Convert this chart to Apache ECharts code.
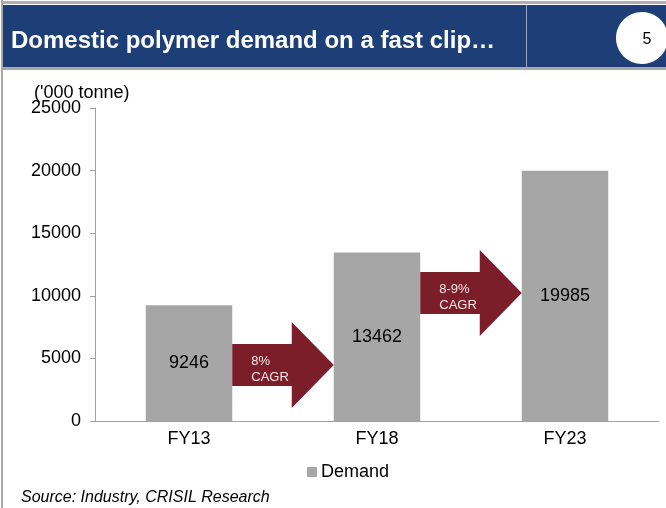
<!DOCTYPE html>
<html>
<head>
<meta charset="utf-8">
<script src="https://cdn.jsdelivr.net/npm/echarts@6/dist/echarts.min.js"></script>
<style>
  html, body { margin: 0; padding: 0; background: #fff; }
  #chart { width: 666px; height: 508px; }
</style>
</head>
<body>
<div id="chart"></div>
<script>
const categories = ['FY13', 'FY18', 'FY23']
const demand = [9246, 13462, 19985]
const yTicks = [0, 5000, 10000, 15000, 20000, 25000]
// arrows between bars: start category index, vertical level (in tonnes), text
const arrowStart = [0, 1]
const arrowLevel = [4470, 10220]
const arrowText = ['8%\nCAGR', '8-9%\nCAGR']

const font = 'Liberation Sans, Arial, sans-serif'
const chart = echarts.init(document.getElementById('chart'))

function renderArrow(params, api) {
  const a = api.coord([api.value(0), api.value(1)])
  const b = api.coord([api.value(0) + 1, api.value(1)])
  const band = api.size([1, 0])[0]
  const x0 = a[0] + band * 0.23
  const x1 = b[0] - band * 0.23
  const y = a[1]
  const bh = 21, hh = 43, hl = 42
  return {
    type: 'group',
    children: [
      {
        type: 'polygon',
        shape: {
          points: [
            [x0, y - bh], [x1 - hl, y - bh], [x1 - hl, y - hh], [x1, y],
            [x1 - hl, y + hh], [x1 - hl, y + bh], [x0, y + bh],
          ],
        },
        style: { fill: '#7b1e2a' },
      },
      {
        type: 'text',
        style: {
          text: arrowText[params.dataIndex],
          x: x0 + 19,
          y: y + 4,
          verticalAlign: 'middle',
          fill: '#f3e6e6',
          font: '13px ' + font,
          lineHeight: 16,
        },
      },
    ],
  }
}

const option = {
  animation: false,
  textStyle: { fontFamily: font },
  graphic: [
    { type: 'rect', shape: { x: 3, y: 1, width: 663, height: 3 }, style: { fill: '#b0b0b0' } },
    { type: 'rect', shape: { x: 3, y: 5, width: 663, height: 62 }, style: { fill: '#1e3e78' } },
    { type: 'rect', shape: { x: 3, y: 67, width: 663, height: 3 }, style: { fill: '#a8a8a8' } },
    { type: 'rect', shape: { x: 1, y: 0, width: 2, height: 508 }, style: { fill: '#a8a8a8' } },
    { type: 'rect', shape: { x: 526, y: 5, width: 1, height: 62 }, style: { fill: '#9aa6bd' } },
    { type: 'ellipse', shape: { cx: 642, cy: 38, rx: 26, ry: 26 }, style: { fill: '#fff' } },
    {
      type: 'text',
      style: { text: '5', x: 647, y: 40, align: 'center', verticalAlign: 'middle', font: '16px ' + font, fill: '#000' },
    },
    {
      type: 'text',
      style: { text: 'Domestic polymer demand on a fast clip…', x: 11, y: 41, verticalAlign: 'middle', font: 'bold 24px ' + font, fill: '#fff' },
    },
    {
      type: 'text',
      style: { text: "('000 tonne)", x: 34, y: 93, verticalAlign: 'middle', font: '18px ' + font, fill: '#000' },
    },
    {
      type: 'text',
      style: { text: 'Source: Industry, CRISIL Research', x: 21, y: 498, verticalAlign: 'middle', font: 'italic 16px ' + font, fill: '#000' },
    },
  ],
  grid: { left: 95, right: 7, top: 108, bottom: 87 },
  legend: {
    data: ['Demand'],
    left: 302,
    top: 458,
    icon: 'rect',
    itemWidth: 10,
    itemHeight: 10,
    itemGap: 4,
    textStyle: { fontSize: 18, color: '#000', fontFamily: font, padding: [0, 0, 0, -1] },
  },
  xAxis: {
    type: 'category',
    data: categories,
    axisLine: { lineStyle: { color: '#a0a0a0' } },
    axisTick: { length: 5, lineStyle: { color: '#a0a0a0' } },
    axisLabel: { color: '#000', fontSize: 18, margin: 9 },
  },
  yAxis: {
    type: 'value',
    min: yTicks[0],
    max: yTicks[yTicks.length - 1],
    interval: yTicks[1] - yTicks[0],
    axisLine: { show: true, lineStyle: { color: '#a0a0a0' } },
    axisTick: { show: true, length: 5, lineStyle: { color: '#a0a0a0' } },
    splitLine: { show: false },
    axisLabel: { color: '#000', fontSize: 18, margin: 14, formatter: (v) => String(v) },
  },
  series: [
    {
      name: 'Demand',
      type: 'bar',
      data: demand,
      barWidth: '46%',
      itemStyle: { color: '#a6a6a6' },
      label: { show: true, position: 'inside', color: '#000', fontSize: 18 },
    },
    {
      name: 'CAGR',
      type: 'custom',
      renderItem: renderArrow,
      data: arrowStart.map((s, i) => [s, arrowLevel[i]]),
      z: 5,
      clip: false,
    },
  ],
}

chart.setOption(option)
</script>
</body>
</html>
